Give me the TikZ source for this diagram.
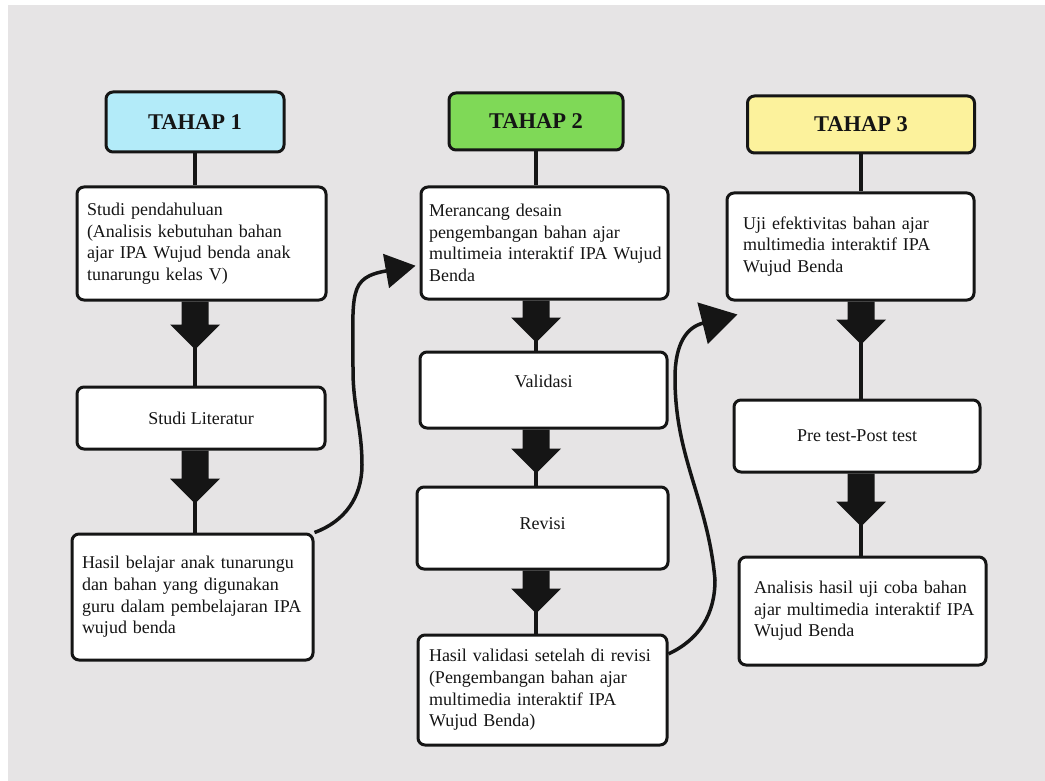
\documentclass[tikz,border=0pt]{standalone}
\usepackage{fontspec}
\setmainfont{Liberation Serif}
\usetikzlibrary{arrows.meta, calc, decorations.markings}
\definecolor{bggray}{HTML}{E6E4E5}
\definecolor{tahapcyan}{HTML}{B3EBF9}
\definecolor{tahapgreen}{HTML}{7FD957}
\definecolor{tahapyellow}{HTML}{FCF29C}
\definecolor{inkblack}{HTML}{151515}

\begin{document}
\begin{tikzpicture}[
    x=1pt, y=1pt,
    box/.style={
        rectangle,
        rounded corners=7pt,
        draw=inkblack,
        line width=3pt,
        fill=white,
        text=inkblack,
        font=\fontsize{18}{21.6}\selectfont,
        inner ysep=4pt
    },
    header/.style={
        box,
        fill=#1,
        font=\bfseries\fontsize{22.5}{27}\selectfont
    },
    desc/.style={
        box,
        align=left
    },
    link/.style={
        draw=inkblack,
        line width=4pt
    },
    flow/.style={
        link,
        postaction={decorate, decoration={markings, mark=at position 0 with {
            \fill[inkblack] (0,-13.5) -- (#1-25,-13.5) -- (#1-25,-25) -- (#1,0)
                -- (#1-25,25) -- (#1-25,13.5) -- (0,13.5) -- cycle;}}}
    },
    flow/.default=46,
    curvy/.style={
        draw=inkblack,
        line width=3.5pt,
        -{Triangle[#1]}
    }
]

\useasboundingbox (0,0) rectangle (1045,-781);
\fill[white] (0,0) rectangle (1045,-781);
\fill[bggray] (8,-5) rectangle (1045,-781);

% Tahap 1
\node[header=tahapcyan, minimum width=178pt, minimum height=60pt] (t1) at (195,-122) {TAHAP 1};
\node[desc, text width=229pt, inner xsep=10pt, minimum height=113pt] (s1) at (201.5,-243.5)
    {Studi pendahuluan\\(Analisis kebutuhan bahan\\ajar IPA Wujud benda anak\\tunarungu kelas V)};
\node[box, minimum width=248pt, minimum height=62pt] (s2) at (201,-418) {Studi Literatur};
\node[desc, text width=221pt, inner xsep=10pt, minimum height=126pt] (s3) at (192.5,-597)
    {Hasil belajar anak tunarungu\\dan bahan yang digunakan\\guru dalam pembelajaran IPA\\wujud benda};

% Tahap 2
\node[header=tahapgreen, minimum width=174pt, minimum height=57pt] (t2) at (536,-121.5) {TAHAP 2};
\node[desc, text width=231pt, inner xsep=8pt, minimum height=112pt] (m1) at (544.5,-243)
    {Merancang desain\\pengembangan bahan ajar\\\mbox{multimeia interaktif IPA Wujud}\\Benda};
\node[box, minimum width=247pt, minimum height=76pt, text depth=18pt] (m2) at (543.5,-390) {Validasi};
\node[box, minimum width=251pt, minimum height=82pt, text depth=8pt] (m3) at (542.5,-528) {Revisi};
\node[desc, text width=227pt, inner xsep=11pt, minimum height=110pt] (m4) at (542.5,-690)
    {Hasil validasi setelah di revisi\\(Pengembangan bahan ajar\\multimedia interaktif IPA\\Wujud Benda)};

% Tahap 3
\node[header=tahapyellow, minimum width=227pt, minimum height=57pt] (t3) at (861,-124.5) {TAHAP 3};
\node[desc, text width=215pt, inner xsep=16pt, minimum height=107pt] (u1) at (850.5,-246.5)
    {Uji efektivitas bahan ajar\\multimedia interaktif IPA\\Wujud Benda};
\node[box, minimum width=246pt, minimum height=72pt] (u2) at (857,-436) {Pre test-Post test};
\node[desc, text width=217pt, inner xsep=15pt, minimum height=108pt] (u3) at (862.5,-611)
    {Analisis hasil uji coba bahan\\\mbox{ajar multimedia interaktif IPA}\\Wujud Benda};

% Column links
\draw[link] (t1.south) -- (t1.south |- s1.north);
\draw[flow=48] (s1.south -| t1.south) -- (s2.north -| t1.south);
\draw[flow=53] (s2.south -| t1.south) -- (s3.north -| t1.south);

\draw[link] (t2.south) -- (t2.south |- m1.north);
\draw[flow=42] (m1.south -| t2.south) -- (m2.north -| t2.south);
\draw[flow=44] (m2.south -| t2.south) -- (m3.north -| t2.south);
\draw[flow=43] (m3.south -| t2.south) -- (m4.north -| t2.south);

\draw[link] (t3.south) -- (t3.south |- u1.north);
\draw[flow=43] (u1.south -| t3.south) -- (u2.north -| t3.south);
\draw[flow=53] (u2.south -| t3.south) -- (u3.north -| t3.south);

% Links between stages
\coordinate (k1) at (362,-465);
\coordinate (k2) at (353,-370);
\draw[curvy={length=30pt, width=34pt}, shorten >=4pt] (s3.north east) to[out=20, in=-90] (k1)
    to[out=90, in=-90] (k2) to[out=90, in=190, out looseness=1.6, in looseness=1.5] (m1.190);

\coordinate (k3) at (715,-580);
\coordinate (k4) at (675,-378);
\coordinate (tip2) at ([shift={(12,-13)}]u1.south west);
\draw[curvy={length=36pt, width=42pt}] (m4.16) to[out=25, in=-90] (k3)
    to[out=95, in=-90] (k4) to[out=90, in=194, in looseness=1.5] (tip2);

\end{tikzpicture}
\end{document}
